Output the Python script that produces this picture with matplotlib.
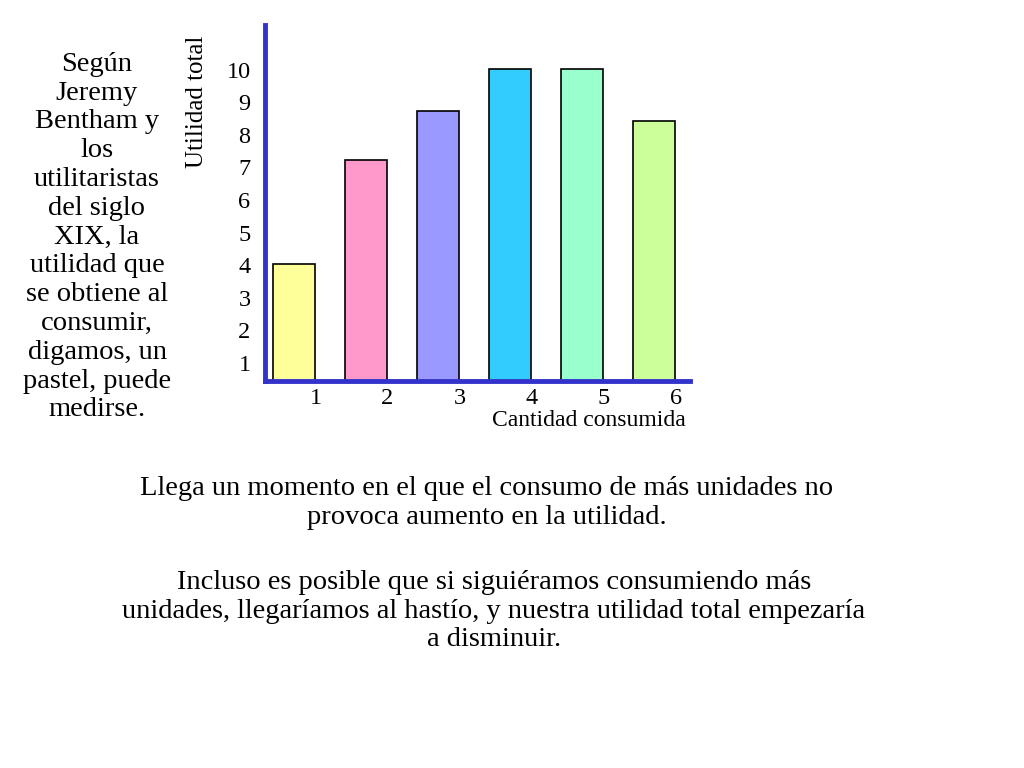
import matplotlib.pyplot as plt

plt.rcParams['font.family'] = 'Liberation Serif'

cantidades = [1, 2, 3, 4, 5, 6]
utilidad = [4.1, 7.3, 8.8, 10.1, 10.1, 8.5]
colores = ['#FFFF99', '#FF99CC', '#9999FF', '#33CCFF', '#99FFCC', '#CCFF99']
y_ticks = [1, 2, 3, 4, 5, 6, 7, 8, 9, 10]

fig = plt.figure(figsize=(10.24, 7.68), dpi=100)
ax = fig.add_axes([265 / 1024, 1 - 381 / 768, 425 / 1024, 356 / 768])

base = 0.52
ax.bar(cantidades, [u - base for u in utilidad], bottom=base, width=0.58,
       color=colores, edgecolor='black', linewidth=1.2)
ax.set_xlim(0.6, 6.5)
ax.set_ylim(base, 11.45)
for s in ['top', 'right']:
    ax.spines[s].set_visible(False)
for s in ['left', 'bottom']:
    ax.spines[s].set_color('#3333CC')
    ax.spines[s].set_linewidth(3.5)
ax.set_xticks([])
ax.set_yticks([])

for v in y_ticks:
    ax.text(0.4, v, str(v), ha='right', va='center', fontsize=17.5)
for c in cantidades:
    ax.text(c + 0.3, base - 0.2, str(c), ha='center', va='top', fontsize=17.5)
ax.text(5.1, base - 0.9, 'Cantidad consumida', ha='center', va='top', fontsize=17)
ax.text(-0.35, 9.1, 'Utilidad total', rotation=90, ha='center', va='center', fontsize=18)

fig.text(97 / 1024, 1 - 237 / 768,
         'Según\nJeremy\nBentham y\nlos\nutilitaristas\ndel siglo\nXIX, la\nutilidad que\n'
         'se obtiene al\nconsumir,\ndigamos, un\npastel, puede\nmedirse.',
         ha='center', va='center', fontsize=20.5, linespacing=1.2)
fig.text(487 / 1024, 1 - 503 / 768,
         'Llega un momento en el que el consumo de más unidades no\nprovoca aumento en la utilidad.',
         ha='center', va='center', fontsize=20.5, linespacing=1.2)
fig.text(494 / 1024, 1 - 611 / 768,
         'Incluso es posible que si siguiéramos consumiendo más\nunidades, llegaríamos al hastío, y nuestra utilidad total empezaría\na disminuir.',
         ha='center', va='center', fontsize=20.5, linespacing=1.2)

fig.savefig('out.png', dpi=100)
